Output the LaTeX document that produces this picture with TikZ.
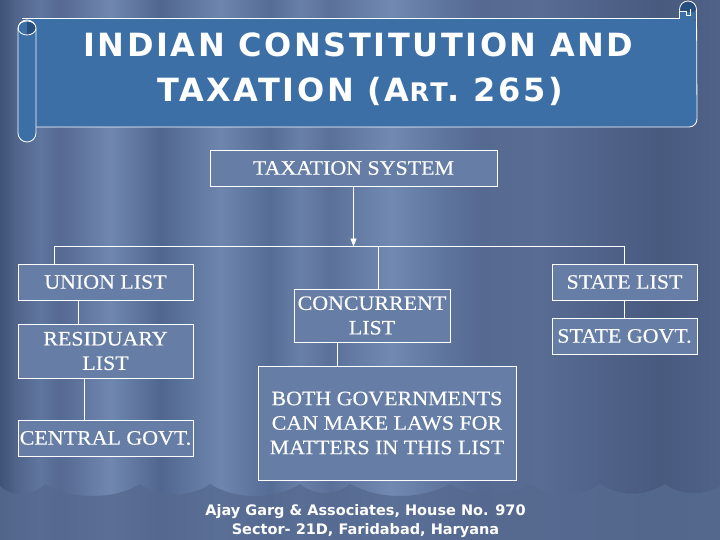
\documentclass[tikz,border=0pt]{standalone}
\usepackage{fontspec}
\setmainfont{Liberation Serif}[FakeStretch=1.07, FakeBold=0.3]
\newfontfamily\titlefont{DejaVu Sans}
\usetikzlibrary{arrows.meta,calc}
\definecolor{bgA}{RGB}{62,82,118}
\definecolor{bgB}{RGB}{80,100,138}
\definecolor{bgC}{RGB}{95,118,158}
\definecolor{bgD}{RGB}{85,105,145}
\definecolor{bgE}{RGB}{112,135,175}
\definecolor{bgF}{RGB}{80,102,142}
\definecolor{bgG}{RGB}{110,134,174}
\definecolor{bgH}{RGB}{85,108,148}
\definecolor{bgI}{RGB}{105,128,168}
\definecolor{bgJ}{RGB}{90,112,152}
\definecolor{bgK}{RGB}{114,138,178}
\definecolor{bgL}{RGB}{95,118,158}
\definecolor{bgM}{RGB}{85,105,145}
\definecolor{bgN}{RGB}{88,108,148}
\definecolor{bgO}{RGB}{80,98,136}
\definecolor{bgP}{RGB}{72,90,126}
\definecolor{bgQ}{RGB}{80,98,135}
\definecolor{hemcol}{RGB}{86,106,144}
\definecolor{banner}{RGB}{59,111,166}
\definecolor{bannerdark}{RGB}{40,78,125}
\definecolor{boxfill}{RGB}{102,126,166}
\begin{document}
\begin{tikzpicture}[x=1pt,y=-1pt,
  box/.style={draw=white, line width=0.9pt, fill=boxfill, inner sep=0pt,
    align=center, text=white, font=\fontsize{20.5}{24.5}\selectfont},
  conn/.style={draw=white, line width=0.9pt},
  scrollline/.style={draw=white, line width=0.8pt},
  titletext/.style={anchor=base, text=white,
    font=\titlefont\bfseries\fontsize{32}{38}\selectfont\addfontfeature{LetterSpace=8}},
  foottext/.style={anchor=base, text=white, font=\titlefont\bfseries\fontsize{14.5}{17}\selectfont}]
\useasboundingbox (0,0) rectangle (720,540);
% background curtain stripes
\foreach \xa/\xb/\ca/\cb in {0/15/bgA/bgB,15/40/bgB/bgC,40/60/bgC/bgD,60/110/bgD/bgE,
  110/160/bgE/bgF,160/220/bgF/bgG,220/270/bgG/bgH,270/300/bgH/bgI,300/330/bgI/bgJ,
  330/390/bgJ/bgK,390/440/bgK/bgL,440/480/bgL/bgM,480/540/bgM/bgN,540/600/bgN/bgO,
  600/660/bgO/bgP,660/720/bgP/bgQ}
  \shade[left color=\ca, right color=\cb] (\xa,0) rectangle ({\xb+0.6},540);
% curtain hem
\fill[hemcol, opacity=0.8] (0,540) -- (0,486)
  .. controls (12,497) and (32,497) .. (45,484)
  .. controls (70,500) and (115,500) .. (140,484)
  .. controls (160,498) and (190,498) .. (210,484)
  .. controls (235,500) and (275,500) .. (300,484)
  .. controls (315,496) and (335,496) .. (350,484)
  .. controls (380,500) and (420,500) .. (450,484)
  .. controls (475,499) and (505,499) .. (530,484)
  .. controls (550,498) and (580,498) .. (600,484)
  .. controls (620,497) and (645,497) .. (665,484)
  .. controls (680,496) and (705,496) .. (720,486)
  -- (720,540) -- cycle;
% scroll banner
\fill[banner, rounded corners=8pt] (27,18) -- (697,18) -- (697,127) -- (27,127) [sharp corners] -- cycle;
\fill[banner] (27,18) rectangle (40,127);
\filldraw[fill=bannerdark, scrollline] (688,9.5) circle[radius=8.5];
\fill[banner] (679,12) rectangle (697,19);
\draw[scrollline] (22,18) -- (679.5,18) -- (679.5,11.5) -- (686,11.5) -- (686,15) -- (690,15) -- (690,9);
\draw[scrollline] (696.5,9.5) -- (697,119) arc[start angle=0, end angle=90, radius=8] -- (36,127);
\filldraw[fill=banner, scrollline, rounded corners=9pt] (18,20) rectangle (36,142);
\begin{scope}
  \clip (27,15) rectangle (40,40);
  \fill[bannerdark] (27,28) ellipse[x radius=9, y radius=7];
\end{scope}
\draw[scrollline] (27,28) ellipse[x radius=9, y radius=7];
\node[titletext] (t1) at (358.5,57) {INDIAN CONSTITUTION AND};
\node[titletext] (t2) at (360,102) {TAXATION (A{\fontsize{25.6}{30}\selectfont RT}. 265)};
% boxes
\node[box, minimum width=287, minimum height=36] (tax) at (353.5,168) {TAXATION SYSTEM};
\node[box, minimum width=175, minimum height=36] (union) at (105.5,282) {UNION LIST};
\node[box, minimum width=175, minimum height=54] (resid) at (105.5,351) {RESIDUARY\\LIST};
\node[box, minimum width=175, minimum height=36] (central) at (105.5,438) {CENTRAL GOVT.};
\node[box, minimum width=156, minimum height=53] (conc) at (372,315.5) {CONCURRENT\\LIST};
\node[box, minimum width=258, minimum height=114] (both) at (387,423) {BOTH GOVERNMENTS\\CAN MAKE LAWS FOR\\MATTERS IN THIS LIST};
\node[box, minimum width=145, minimum height=36] (statel) at (624.5,282) {STATE LIST};
\node[box, minimum width=145, minimum height=36] (stateg) at (624.5,336) {STATE GOVT.};
% connectors
\coordinate (busL) at (54,246.5);
\coordinate (busM) at (378,246.5);
\coordinate (busR) at (624,246.5);
\coordinate (xu) at (78,0);
\coordinate (xr) at (84,0);
\coordinate (xc) at (337,0);
\draw[conn, -{Triangle[length=8pt,width=6pt]}] (tax.south) -- (tax.south |- busL);
\draw[conn] (union.north -| busL) -- (busL) -- (busR) -- (statel.north -| busR);
\draw[conn] (busM) -- (conc.north -| busM);
\draw[conn] (union.south -| xu) -- (resid.north -| xu);
\draw[conn] (resid.south -| xr) -- (central.north -| xr);
\draw[conn] (conc.south -| xc) -- (both.north -| xc);
\draw[conn] (statel.south -| busR) -- (stateg.north -| busR);
% footer
\node[foottext] (f1) at (365.5,515) {Ajay Garg \& Associates, House No. 970};
\node[foottext] (f2) at (365.5,534) {Sector- 21D, Faridabad, Haryana};
\end{tikzpicture}
\end{document}
